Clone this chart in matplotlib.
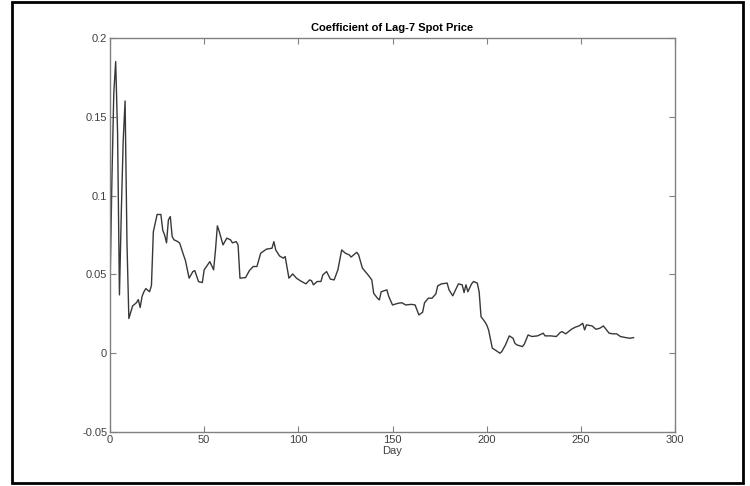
import matplotlib
matplotlib.use('Agg')
import matplotlib.pyplot as plt
from matplotlib.patches import Rectangle

plt.rcParams['font.family'] = ['Liberation Sans', 'DejaVu Sans']

# coefficient path over the trading days
days = [0, 1, 2, 3, 4, 5, 6, 7, 8, 9, 10, 11, 12, 13, 14, 15, 16, 17, 18, 19,
        20, 21, 22, 23, 24, 25, 27, 28, 29, 30, 31, 32, 33, 34, 36, 37, 39, 40,
        42, 44, 45, 47, 49, 50, 53, 55, 56, 57, 58, 60, 62, 64, 65, 67, 68, 69,
        72, 74, 76, 78, 80, 83, 86, 87, 88, 90, 92, 93, 95, 97, 99, 101, 104,
        106, 107, 108, 110, 112, 113, 115, 117, 119, 121, 123, 125, 127, 128,
        131, 132, 134, 137, 139, 140, 142, 143, 144, 147, 148, 150, 153, 155,
        157, 160, 162, 164, 166, 167, 169, 171, 173, 174, 176, 179, 180, 182,
        183, 185, 187, 188, 189, 190, 192, 193, 195, 196, 197, 199, 200, 201,
        203, 205, 207, 208, 210, 212, 214, 215, 216, 219, 220, 222, 224, 227,
        230, 231, 234, 237, 239, 240, 242, 245, 247, 249, 251, 252, 253, 256,
        258, 260, 262, 263, 265, 267, 269, 271, 273, 276, 278]
coef = [0.042, 0.11, 0.165, 0.185, 0.14, 0.037, 0.09, 0.135, 0.16, 0.07,
        0.022, 0.026, 0.030, 0.031, 0.032, 0.034, 0.029, 0.036, 0.039, 0.041,
        0.040, 0.039, 0.043, 0.077, 0.0825, 0.088, 0.088, 0.078, 0.075, 0.070,
        0.0846, 0.0867, 0.074, 0.0719, 0.0708, 0.0698, 0.0624, 0.059, 0.0476,
        0.0518, 0.0524, 0.0454, 0.0448, 0.0529, 0.0581, 0.0529, 0.0655, 0.0808,
        0.0772, 0.0687, 0.073, 0.0719, 0.070, 0.0708, 0.0687, 0.0476, 0.048,
        0.0524, 0.055, 0.055, 0.0634, 0.066, 0.0666, 0.0708, 0.0655, 0.0617,
        0.0603, 0.0613, 0.0476, 0.0503, 0.0476, 0.046, 0.044, 0.0465, 0.046,
        0.0434, 0.0455, 0.0455, 0.0497, 0.0518, 0.047, 0.0465, 0.0529, 0.0655,
        0.0634, 0.0624, 0.061, 0.064, 0.0624, 0.054, 0.0497, 0.0465, 0.038,
        0.0349, 0.0338, 0.039, 0.0402, 0.036, 0.0306, 0.0317, 0.032, 0.0306,
        0.031, 0.0306, 0.0243, 0.026, 0.032, 0.0349, 0.0349, 0.0376, 0.0427,
        0.044, 0.0445, 0.0402, 0.0364, 0.039, 0.044, 0.0434, 0.0385, 0.0434,
        0.039, 0.044, 0.0455, 0.0445, 0.039, 0.0232, 0.020, 0.018, 0.0148,
        0.0032, 0.0017, 0.0, 0.001, 0.0053, 0.011, 0.0095, 0.0063, 0.0053,
        0.0042, 0.0058, 0.0116, 0.0106, 0.011, 0.0127, 0.011, 0.011, 0.0106,
        0.0131, 0.0137, 0.0123, 0.0152, 0.0165, 0.0173, 0.019, 0.0148, 0.018,
        0.0173, 0.0152, 0.0158, 0.0173, 0.0158, 0.0127, 0.0123, 0.0123, 0.0106,
        0.0101, 0.0095, 0.0099]

x_ticks = [0, 50, 100, 150, 200, 250, 300]
y_ticks = [-0.05, 0, 0.05, 0.1, 0.15, 0.2]
y_labels = ['-0.05', '0', '0.05', '0.1', '0.15', '0.2']

fig = plt.figure(figsize=(7.5, 4.86), dpi=100)
ax = fig.add_axes([0.1467, 0.111, 0.7533, 0.811])

ax.plot(days, coef, color='#383838', lw=1.0)

ax.set_xlim(0, 300)
ax.set_ylim(-0.05, 0.2)
ax.set_xticks(x_ticks)
ax.set_yticks(y_ticks)
ax.set_yticklabels(y_labels)

axis_grey = '#808080'
for s in ax.spines.values():
    s.set_color(axis_grey)
    s.set_linewidth(1.0)
ax.tick_params(direction='in', length=4, width=0.8, color=axis_grey,
               top=True, right=True, labelsize=8, labelcolor='#404040',
               pad=2)

ax.set_xlabel('Day', fontsize=8, color='#404040', labelpad=1)
ax.set_title('Coefficient of Lag-7 Spot Price', fontsize=8,
             fontweight='bold', pad=5,
             family=['Liberation Sans Narrow', 'Liberation Sans'])

# black frame around the whole figure
fig.patches.append(Rectangle((12 / 750, 3 / 486), 731 / 750, 481 / 486,
                             transform=fig.transFigure, fill=False,
                             edgecolor='black', lw=2))

fig.savefig('out.png', dpi=100)
